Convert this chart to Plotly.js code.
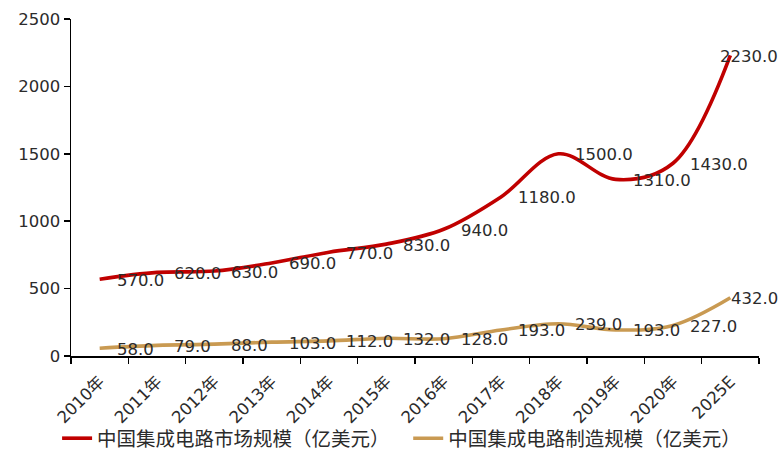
<!DOCTYPE html>
<html>
<head>
<meta charset="utf-8">
<script src="https://cdn.plot.ly/plotly-3.0.1.min.js"></script>
<style>
  html, body { margin: 0; padding: 0; background: #fff; }
  #chart { width: 782px; height: 458px; }
</style>
</head>
<body>
<div id="chart"></div>
<script>
// 中国集成电路市场规模与制造规模（亿美元）
const years = ['2010年', '2011年', '2012年', '2013年', '2014年', '2015年',
               '2016年', '2017年', '2018年', '2019年', '2020年', '2025E'];
const marketSize = [570, 620, 630, 690, 770, 830, 940, 1180, 1500, 1310, 1430, 2230];
const manufacturingSize = [58, 79, 88, 103, 112, 132, 128, 193, 239, 193, 227, 432];
const seriesNames = ['中国集成电路市场规模（亿美元）', '中国集成电路制造规模（亿美元）'];
const yTicks = [0, 500, 1000, 1500, 2000, 2500];

const RED = '#C00000';
const TAN = '#C99A52';
const TEXT = '#2b2b2b';
const FONT = 'DejaVu Sans, Noto Sans CJK SC, sans-serif';
const LEGEND_FONT = { family: 'Noto Sans CJK SC, sans-serif', size: 19.5, color: TEXT };

function lineTrace(name, values, color, legendId) {
  return {
    type: 'scatter',
    mode: 'lines',
    name: name,
    legend: legendId,
    x: years,
    y: values,
    line: { color: color, width: 3.6, shape: 'spline', smoothing: 1 },
    hoverinfo: 'skip'
  };
}

// value labels sit to the right of each point; the last category is
// right-aligned so the text stays inside the page
function valueLabels(values) {
  const last = values.length - 1;
  return values.map((v, i) => ({
    x: years[i],
    y: v,
    xref: 'x',
    yref: 'y',
    text: v.toFixed(1),
    showarrow: false,
    xanchor: i === last ? 'right' : 'left',
    yanchor: 'middle',
    xshift: i === last ? 50 : 15,
    yshift: -1,
    font: { family: FONT, size: 16.5, color: TEXT }
  }));
}

// one single-entry legend per series, side by side under the axis
function legendBox(x) {
  return {
    orientation: 'h',
    xref: 'container',
    yref: 'container',
    x: x,
    y: -0.012,
    xanchor: 'left',
    yanchor: 'bottom',
    font: LEGEND_FONT,
    bgcolor: 'rgba(0,0,0,0)'
  };
}

const data = [
  lineTrace(seriesNames[0], marketSize, RED, 'legend'),
  lineTrace(seriesNames[1], manufacturingSize, TAN, 'legend2')
];

const layout = {
  width: 782,
  height: 458,
  margin: { l: 71, r: 23, t: 19, b: 102 },
  paper_bgcolor: '#ffffff',
  plot_bgcolor: '#ffffff',
  showlegend: true,
  font: { family: FONT, size: 16.5, color: TEXT },
  xaxis: {
    type: 'category',
    tickson: 'boundaries',
    ticks: 'outside',
    ticklen: 6,
    tickwidth: 1.5,
    tickcolor: '#000',
    showline: true,
    linecolor: '#000',
    linewidth: 1.5,
    showgrid: false,
    zeroline: false,
    tickangle: -45,
    ticklabelstandoff: 8,
    tickfont: { family: FONT, size: 16.5, color: TEXT },
    range: [-0.5, years.length - 0.5],
    fixedrange: true
  },
  yaxis: {
    range: [0, 2500],
    tickvals: yTicks,
    ticktext: yTicks.map(String),
    ticks: 'outside',
    ticklen: 6,
    tickwidth: 1.5,
    tickcolor: '#000',
    showline: true,
    linecolor: '#000',
    linewidth: 1.5,
    showgrid: false,
    zeroline: false,
    tickfont: { family: FONT, size: 16.5, color: TEXT },
    fixedrange: true
  },
  legend: legendBox(0.073),
  legend2: legendBox(0.522),
  annotations: valueLabels(marketSize).concat(valueLabels(manufacturingSize))
};

Plotly.newPlot('chart', data, layout, { displayModeBar: false, staticPlot: true });
</script>
</body>
</html>
